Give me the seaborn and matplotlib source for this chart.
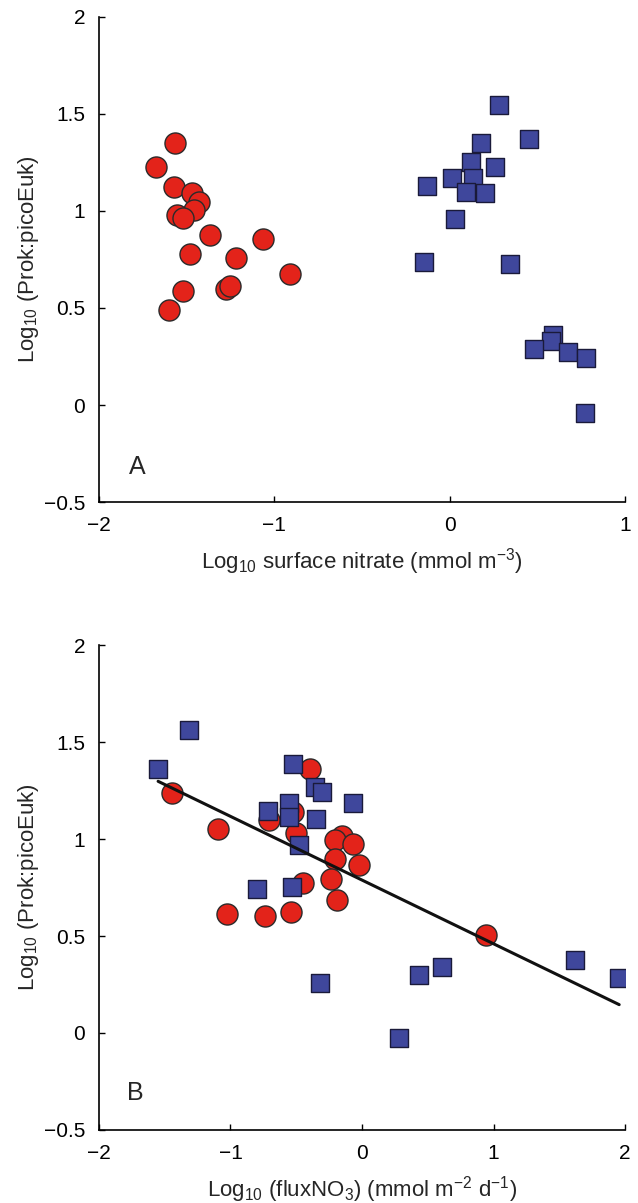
import numpy as np
import pandas as pd
import matplotlib
matplotlib.use("Agg")
import matplotlib.pyplot as plt
import seaborn as sns

# Panel A: log10 surface nitrate vs log10 Prok:picoEuk
a_red_x = [-1.675, -1.566, -1.572, -1.47, -1.43, -1.458, -1.555, -1.52, -1.367, -1.48,
           -1.064, -1.218, -0.91, -1.52, -1.276, -1.253, -1.60]
a_red_y = [1.227, 1.35, 1.124, 1.093, 1.046, 1.005, 0.979, 0.964, 0.876, 0.778,
           0.856, 0.758, 0.675, 0.588, 0.598, 0.613, 0.49]
a_blue_x = [0.282, 0.453, 0.179, 0.122, 0.259, 0.014, 0.134, -0.129, 0.094, 0.202,
            0.031, -0.146, 0.345, 0.59, 0.578, 0.48, 0.675, 0.778, 0.772]
a_blue_y = [1.546, 1.371, 1.35, 1.253, 1.227, 1.17, 1.17, 1.129, 1.098, 1.093,
            0.959, 0.737, 0.727, 0.361, 0.33, 0.289, 0.273, 0.242, -0.041]

# Panel B: log10 fluxNO3 vs log10 Prok:picoEuk
b_red_x = [-0.395, -1.445, -0.525, -0.707, -1.095, -0.502, -0.152, -0.205, -0.068, -0.205,
           -0.023, -0.236, -0.449, -0.19, -1.027, -0.738, -0.54, 0.943]
b_red_y = [1.36, 1.237, 1.139, 1.098, 1.052, 1.031, 1.015, 0.995, 0.974, 0.897,
           0.866, 0.794, 0.773, 0.686, 0.613, 0.603, 0.624, 0.505]
b_blue_x = [-1.316, -1.55, -0.525, -0.357, -0.304, -0.555, -0.068, -0.715, -0.555, -0.35,
            -0.479, -0.80, -0.532, 0.608, 0.433, 0.281, 1.62, 1.954, -0.319]
b_blue_y = [1.562, 1.36, 1.387, 1.268, 1.242, 1.186, 1.186, 1.144, 1.113, 1.103,
            0.969, 0.742, 0.753, 0.34, 0.299, -0.026, 0.376, 0.284, 0.258]

x_ticks = [-2, -1, 0, 1]
x_ticks_b = [-2, -1, 0, 1, 2]
y_ticks = [-0.5, 0, 0.5, 1, 1.5, 2]

sns.set_theme(style="ticks")
plt.rcParams['font.family'] = ['Liberation Sans', 'DejaVu Sans']
plt.rcParams['mathtext.fontset'] = 'custom'
plt.rcParams['mathtext.rm'] = 'Liberation Sans'
plt.rcParams['mathtext.it'] = 'Liberation Sans:italic'
plt.rcParams['mathtext.bf'] = 'Liberation Sans:bold'

RED = "#e3231a"
BLUE = "#3f479c"
EDGE = "#2a2a2a"

fig = plt.figure(figsize=(6.38, 12.03), dpi=100)
axA = fig.add_axes([0.155, 0.5827, 0.825, 0.4032])
axB = fig.add_axes([0.155, 0.0607, 0.825, 0.4031])

def style(ax, xt, xlim):
    ax.set_xlim(*xlim)
    ax.set_ylim(-0.5, 2)
    ax.set_xticks(xt)
    ax.set_xticklabels([str(v).replace('-', '\u2212') for v in xt])
    ax.set_yticks(y_ticks)
    ax.set_yticklabels(['\u22120.5', '0', '0.5', '1', '1.5', '2'])
    for s in ['top', 'right']:
        ax.spines[s].set_visible(False)
    for s in ['left', 'bottom']:
        ax.spines[s].set_color('black')
        ax.spines[s].set_linewidth(1.2)
    ax.tick_params(direction='in', length=4, width=1, labelsize=15, colors='black', pad=10)

dfA_r = pd.DataFrame({"x": a_red_x, "y": a_red_y})
dfA_b = pd.DataFrame({"x": a_blue_x, "y": a_blue_y})
sns.scatterplot(data=dfA_r, x="x", y="y", ax=axA, marker='o', s=230, color=RED,
                edgecolor=EDGE, linewidth=1.0, zorder=3)
sns.scatterplot(data=dfA_b, x="x", y="y", ax=axA, marker='s', s=150, color=BLUE,
                edgecolor='#1a1a3a', linewidth=1.0, zorder=3)
style(axA, x_ticks, (-2, 1))
axA.set_xlabel("Log$_{10}$ surface nitrate (mmol m$^{-3}$)", fontsize=16, labelpad=8)
axA.set_ylabel("Log$_{10}$ (Prok:picoEuk)", fontsize=16, labelpad=2)
axA.text(-1.78, -0.32, "A", fontsize=18, ha='center', va='center')

dfB_r = pd.DataFrame({"x": b_red_x, "y": b_red_y})
dfB_b = pd.DataFrame({"x": b_blue_x, "y": b_blue_y})
dfB_all = pd.concat([dfB_r, dfB_b], ignore_index=True)
sns.scatterplot(data=dfB_b, x="x", y="y", ax=axB, marker='s', s=150, color=BLUE,
                edgecolor='#1a1a3a', linewidth=1.0, zorder=3)
sns.scatterplot(data=dfB_r, x="x", y="y", ax=axB, marker='o', s=230, color=RED,
                edgecolor=EDGE, linewidth=1.0, zorder=2)
sns.regplot(data=dfB_all, x="x", y="y", ax=axB, scatter=False, ci=None,
            line_kws=dict(color='#111111', linewidth=2.2, zorder=4))
style(axB, x_ticks_b, (-2, 2))
axB.set_xlabel("Log$_{10}$ (fluxNO$_3$) (mmol m$^{-2}$ d$^{-1}$)", fontsize=16, labelpad=8)
axB.set_ylabel("Log$_{10}$ (Prok:picoEuk)", fontsize=16, labelpad=2)
axB.text(-1.72, -0.31, "B", fontsize=18, ha='center', va='center')

fig.savefig("out.png", dpi=100)
